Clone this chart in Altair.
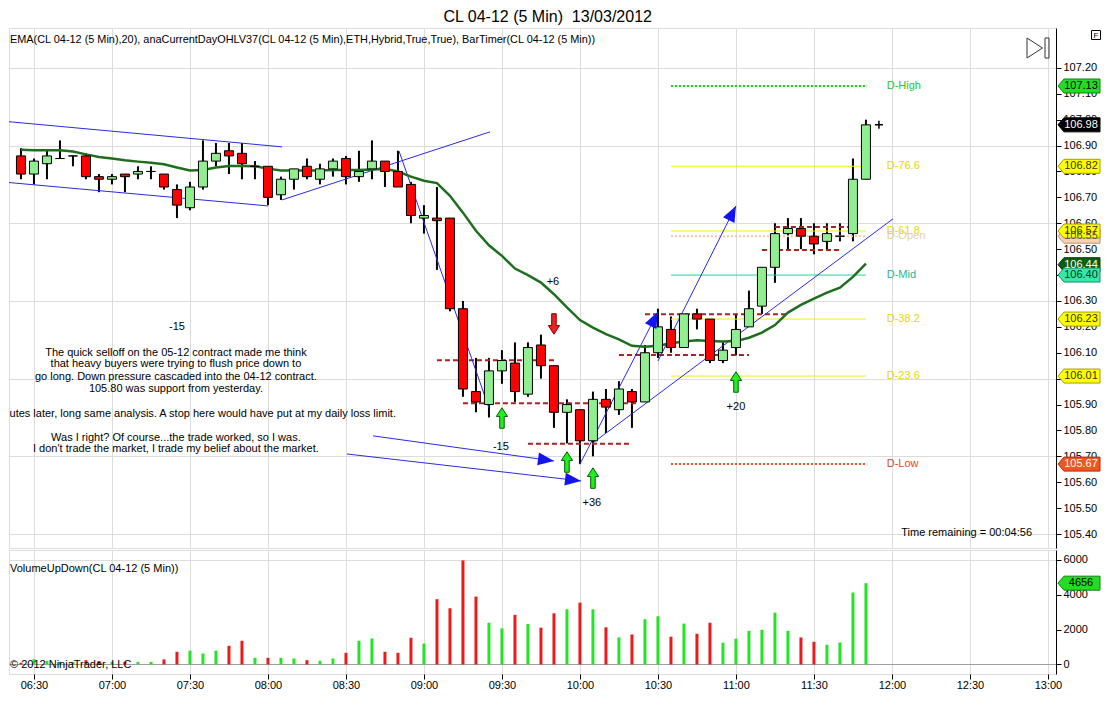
import math
import altair as alt
import pandas as pd

# ---------------- data ----------------
times = ["06:25", "06:30", "06:35", "06:40", "06:45", "06:50", "06:55", "07:00", "07:05", "07:10",
         "07:15", "07:20", "07:25", "07:30", "07:35", "07:40", "07:45", "07:50", "07:55", "08:00",
         "08:05", "08:10", "08:15", "08:20", "08:25", "08:30", "08:35", "08:40", "08:45", "08:50",
         "08:55", "09:00", "09:05", "09:10", "09:15", "09:20", "09:25", "09:30", "09:35", "09:40",
         "09:45", "09:50", "09:55", "10:00", "10:05", "10:10", "10:15", "10:20", "10:25", "10:30",
         "10:35", "10:40", "10:45", "10:50", "10:55", "11:00", "11:05", "11:10", "11:15", "11:20",
         "11:25", "11:30", "11:35", "11:40", "11:45", "11:50"]
opens = [106.86, 106.79, 106.83, 106.85, 106.86, 106.86, 106.78, 106.77, 106.79, 106.79,
         106.80, 106.79, 106.73, 106.66, 106.74, 106.84, 106.88, 106.87, 106.82, 106.82,
         106.71, 106.77, 106.82, 106.77, 106.81, 106.85, 106.78, 106.81, 106.84, 106.80,
         106.75, 106.62, 106.62, 106.62, 106.27, 105.95, 105.90, 106.03, 106.06, 105.94,
         106.13, 106.05, 105.87, 105.88, 105.76, 105.92, 105.88, 105.95, 105.91, 106.10,
         106.19, 106.12, 106.25, 106.23, 106.07, 106.12, 106.20, 106.28, 106.43, 106.56,
         106.58, 106.55, 106.53, 106.55, 106.56, 106.77]
highs = [106.89, 106.85, 106.88, 106.92, 106.86, 106.87, 106.79, 106.79, 106.79, 106.82,
         106.82, 106.79, 106.75, 106.76, 106.92, 106.91, 106.91, 106.91, 106.84, 106.82,
         106.78, 106.81, 106.85, 106.83, 106.85, 106.86, 106.88, 106.92, 106.84, 106.88,
         106.76, 106.67, 106.74, 106.62, 106.30, 106.08, 106.08, 106.11, 106.14, 106.14,
         106.17, 106.05, 105.92, 105.88, 105.95, 105.96, 105.99, 105.96, 106.13, 106.27,
         106.24, 106.25, 106.27, 106.23, 106.14, 106.25, 106.34, 106.43, 106.60, 106.62,
         106.62, 106.60, 106.60, 106.60, 106.85, 107.00]
lows = [106.77, 106.75, 106.77, 106.85, 106.82, 106.77, 106.72, 106.75, 106.72, 106.77,
        106.77, 106.73, 106.62, 106.65, 106.73, 106.82, 106.79, 106.77, 106.77, 106.67,
        106.69, 106.73, 106.77, 106.75, 106.78, 106.75, 106.76, 106.77, 106.74, 106.74,
        106.60, 106.56, 106.42, 106.26, 105.93, 105.87, 105.85, 105.98, 105.91, 105.93,
        106.00, 105.81, 105.75, 105.67, 105.70, 105.79, 105.86, 105.81, 105.91, 106.08,
        106.10, 106.12, 106.19, 106.06, 106.06, 106.09, 106.20, 106.25, 106.37, 106.50,
        106.50, 106.48, 106.50, 106.53, 106.53, 106.77]
closes = [106.79, 106.84, 106.86, 106.85, 106.86, 106.78, 106.77, 106.78, 106.78, 106.80,
          106.80, 106.74, 106.67, 106.74, 106.84, 106.87, 106.86, 106.83, 106.82, 106.70,
          106.77, 106.81, 106.78, 106.81, 106.84, 106.78, 106.80, 106.84, 106.80, 106.74,
          106.63, 106.63, 106.61, 106.27, 105.96, 105.91, 106.03, 106.07, 105.95, 106.12,
          106.05, 105.87, 105.90, 105.76, 105.92, 105.89, 105.96, 105.91, 106.10, 106.20,
          106.12, 106.25, 106.23, 106.07, 106.11, 106.19, 106.27, 106.43, 106.56, 106.58,
          106.55, 106.52, 106.56, 106.55, 106.77, 106.98]
ema20 = [106.884, 106.882, 106.882, 106.882, 106.877, 106.866, 106.856, 106.850, 106.843, 106.838,
         106.834, 106.828, 106.815, 106.804, 106.806, 106.815, 106.821, 106.821, 106.820, 106.811,
         106.804, 106.804, 106.804, 106.804, 106.806, 106.806, 106.806, 106.808, 106.810, 106.800,
         106.780, 106.764, 106.755, 106.706, 106.641, 106.571, 106.515, 106.474, 106.425, 106.400,
         106.371, 106.326, 106.275, 106.226, 106.197, 106.172, 106.152, 106.127, 106.123, 106.127,
         106.137, 106.143, 106.148, 106.145, 106.143, 106.145, 106.158, 106.178, 106.207, 106.255,
         106.285, 106.309, 106.332, 106.351, 106.393, 106.444]
volumes = [100, 300, 200, 150, 150, 250, 200, 150, 150, 150,
           150, 290, 730, 790, 630, 790, 1070, 1360, 380, 380,
           380, 345, 250, 210, 345, 670, 1360, 1490, 730, 670,
           1530, 1200, 3740, 3220, 5960, 3890, 2390, 2070, 2840, 2320,
           2110, 2930, 3160, 3540, 3160, 2130, 1550, 1720, 2590, 2760,
           1590, 2340, 1760, 2390, 1250, 1480, 1930, 1990, 2970, 1930,
           1550, 1300, 1130, 1260, 4120, 4656]

time_ticks = ["06:30", "07:00", "07:30", "08:00", "08:30", "09:00", "09:30", "10:00",
              "10:30", "11:00", "11:30", "12:00", "12:30", "13:00"]
price_ticks = [105.40, 105.50, 105.60, 105.70, 105.80, 105.90, 106.00, 106.10, 106.20, 106.30,
               106.40, 106.50, 106.60, 106.70, 106.80, 106.90, 107.00, 107.10, 107.20]
volume_ticks = [0, 2000, 4000, 6000]

# daily levels (anaCurrentDayOHL)
level_names = ["D-High", "D-76.6", "D-61.8", "D-Open", "D-Mid", "D-38.2", "D-23.6", "D-Low"]
level_prices = [107.13, 106.82, 106.57, 106.55, 106.40, 106.23, 106.01, 105.67]
level_dotted = [True, False, False, True, False, False, False, True]
level_start, level_end, level_label_t = 635, 710, 718

# red dashed support / resistance lines (minutes from midnight, price)
sr_t1 = [545, 555, 580, 615, 625, 675, 670]
sr_t2 = [590, 622, 620, 665, 680, 705, 700]
sr_price = [106.071, 105.905, 105.749, 106.091, 106.249, 106.586, 106.497]

# blue drawn trend lines
tl_t1 = [377.3, 377.3, 485.4, 530.4, 520.4, 510.4, 600.0, 630.0, 605.0]
tl_p1 = [106.995, 106.760, 106.690, 106.879, 105.779, 105.709, 105.670, 106.068, 105.752]
tl_t2 = [485.4, 480.0, 565.4, 565.0, 590.0, 600.4, 630.0, 660.0, 720.4]
tl_p2 = [106.895, 106.667, 106.953, 105.887, 105.682, 105.605, 106.258, 106.667, 106.617]
tl_arrow = [False, False, False, False, True, True, True, True, False]

# signal arrows
sig_t = [570, 595, 605, 660, 590]
sig_price = [105.848, 105.678, 105.616, 105.987, 106.211]
sig_dir = ["up", "up", "up", "up", "down"]

# small annotations
note_text = ["+6", "-15", "-15", "+36", "+20"]
note_t = [589.6, 445.0, 569.6, 604.6, 660.0]
note_price = [106.373, 106.200, 105.736, 105.520, 105.891]

para_lines = ["The quick selloff on the 05-12 contract made me think",
              "that heavy buyers were trying to flush price down to",
              "go long. Down pressure cascaded into the 04-12 contract.",
              "105.80 was support from yesterday.",
              "Was I right? Of course...the trade worked, so I was.",
              "I don't trade the market, I trade my belief about the market."]
para_price = [106.100, 106.056, 106.006, 105.959, 105.772, 105.727]
para_t = 444.6
clip_line = "utes later, long same analysis. A stop here would have put at my daily loss limit."
clip_price = 105.862

# right-axis price flags
flag_prices = [107.13, 106.98, 106.82, 106.55, 106.57, 106.44, 106.40, 106.23, 106.01, 105.67]
last_price_t = 715
volume_flag = 4656

# ---------------- styles ----------------
FONT = "Liberation Sans"
W, H1, H2 = 1047, 520, 124
level_line_colors = ["#00E000", "#F2F200", "#F2F200", "#F2C8A8", "#22D2A2", "#F2F200", "#F2F200", "#FF4A1A"]
level_label_colors = ["#22C822", "#E6D600", "#E6D600", "#E6CDB0", "#1FB894", "#E6D600", "#E6D600", "#E0481A"]
flag_fill = ["#22DD22", "#000000", "#FFFF00", "#F5D2B4", "#FFFF00", "#0B5E0B", "#33E8A8", "#FFFF00", "#FFFF00", "#F0561E"]
flag_text = ["#000000", "#FFFFFF", "#333300", "#555555", "#333300", "#FFFFFF", "#003322", "#333300", "#333300", "#FFFFFF"]
flag_edge = ["#108010", "#000000", "#A0A000", "#C09070", "#A0A000", "#083A08", "#139070", "#A0A000", "#A0A000", "#A03010"]
FLAG_PATH = "M-3,0L-2.15,-1L3,-1L3,1L-2.15,1Z"
ARROW_PATH = "M0,-1L0.55,-0.15L0.22,-0.15L0.22,1L-0.22,1L-0.22,-0.15L-0.55,-0.15Z"
HEAD_PATH = "M0,0L0.8,2L-0.8,2Z"
ICON_PATH = "M-1,-1L0.55,0L-1,1Z M0.8,-1L1.2,-1L1.2,1L0.8,1Z"

XDOM = [380.4, 783.1]
YDOM = [105.346, 107.354]
VDOM = [-544, 6555]


def tmin(s):
    h, m = s.split(":")
    return int(h) * 60 + int(m)


tick_vals = [tmin(s) for s in time_ticks]

bars = pd.DataFrame({"t": [tmin(s) for s in times], "open": opens, "high": highs,
                     "low": lows, "close": closes, "ema": ema20, "vol": volumes})
bars["dir"] = ["up" if c >= o else "down" for o, c in zip(opens, closes)]
bars["body_color"] = ["#90EE90" if d == "up" else "#FF0000" for d in bars["dir"]]
bars["vol_color"] = ["#22E622" if d == "up" else "#EE1A1A" for d in bars["dir"]]
bars["zero"] = 0

levels = pd.DataFrame({"name": level_names, "price": level_prices, "dotted": level_dotted,
                       "lc": level_line_colors, "tc": level_label_colors})
levels["t1"] = level_start
levels["t2"] = level_end
levels["tl"] = level_label_t

sr = pd.DataFrame({"t1": sr_t1, "t2": sr_t2, "price": sr_price})
tl = pd.DataFrame({"t1": tl_t1, "p1": tl_p1, "t2": tl_t2, "p2": tl_p2, "arrow": tl_arrow})

kx = W / (XDOM[1] - XDOM[0])
ky = H1 / (YDOM[1] - YDOM[0])
heads = tl[tl["arrow"]].copy()
heads["ang"] = [(math.degrees(math.atan2((r.t2 - r.t1) * kx, (r.p2 - r.p1) * ky)) + 360) % 360
                for r in heads.itertuples()]

sig = pd.DataFrame({"t": sig_t, "price": sig_price, "dir": sig_dir})
sig["fill"] = ["#22EE22" if d == "up" else "#EE2020" for d in sig_dir]
sig["edge"] = ["#006000" if d == "up" else "#800000" for d in sig_dir]
sig["ang"] = [0 if d == "up" else 180 for d in sig_dir]

notes = pd.DataFrame({"text": note_text, "t": note_t, "price": note_price})
para = pd.DataFrame({"text": para_lines, "price": para_price})
para["t"] = para_t
clipped = pd.DataFrame({"text": [clip_line], "price": [clip_price], "t": [XDOM[0] + 0.2]})

flags = pd.DataFrame({"price": flag_prices, "fill": flag_fill, "tc": flag_text, "edge": flag_edge})
flags["label"] = [f"{p:.2f}" for p in flag_prices]
last = pd.DataFrame({"t": [last_price_t], "price": [flag_prices[1]]})
vflag = pd.DataFrame({"vol": [volume_flag], "label": [str(volume_flag)]})

# ---------------- scales & axes ----------------
xs = alt.Scale(domain=XDOM, nice=False, zero=False, padding=0)
ys = alt.Scale(domain=YDOM, nice=False, zero=False, padding=0)
vs = alt.Scale(domain=VDOM, nice=False, zero=False, padding=0)

xax_main = alt.Axis(values=tick_vals, grid=True, gridColor="#DCDCDC", labels=False, ticks=False,
                    domain=False, title=None)
yax_main = alt.Axis(orient="right", values=price_ticks, format=".2f", grid=True, gridColor="#DCDCDC",
                    gridOpacity={"condition": {"test": "(round(datum.value*100) - 10540) % 30 == 0", "value": 1},
                                 "value": 0},
                    tickSize=5, tickColor="#000000", domainColor="#000000", labelFontSize=11,
                    labelColor="#000000", labelPadding=2, labelFont=FONT, title=None, zindex=0)
label_expr = ("(floor(datum.value/60) < 10 ? '0' : '') + floor(datum.value/60) + ':' + "
              "(datum.value % 60 < 10 ? '0' : '') + (datum.value % 60)")
xax_vol = alt.Axis(values=tick_vals, labelExpr=label_expr, grid=True, gridColor="#DCDCDC", tickSize=5,
                   tickColor="#000000", domain=False, labelFontSize=11, labelColor="#000000",
                   labelPadding=0, labelFont=FONT, title=None)
yax_vol = alt.Axis(orient="right", values=volume_ticks, format="d", grid=True,
                   gridOpacity={"condition": {"test": "datum.value == 0 || datum.value == 6000", "value": 1},
                                "value": 0},
                   gridColor={"condition": {"test": "datum.value == 0", "value": "#A0A0A0"}, "value": "#DCDCDC"},
                   tickSize=5, tickColor="#000000", domainColor="#000000", labelFontSize=11,
                   labelColor="#000000", labelPadding=2, labelFont=FONT, title=None, zindex=0)


def X(f):
    return alt.X(f, type="quantitative", scale=xs, axis=xax_main)


def Y(f):
    return alt.Y(f, type="quantitative", scale=ys, axis=yax_main)


# ---------------- main price panel ----------------
lv_solid = alt.Chart(levels[~levels["dotted"]]).mark_rule(strokeWidth=1).encode(
    x=X("t1"), x2="t2", y=Y("price"), color=alt.Color("lc:N", scale=None))
lv_dot = alt.Chart(levels[levels["dotted"]]).mark_rule(strokeWidth=2, strokeDash=[2, 2]).encode(
    x=X("t1"), x2="t2", y=Y("price"), color=alt.Color("lc:N", scale=None))
lv_text = alt.Chart(levels).mark_text(align="left", baseline="middle", fontSize=11, font=FONT).encode(
    x=X("tl"), y=Y("price"), text="name:N", color=alt.Color("tc:N", scale=None))

sr_lines = alt.Chart(sr).mark_rule(strokeWidth=2, strokeDash=[5, 3], color="#A52424").encode(
    x=X("t1"), x2="t2", y=Y("price"))

blue = alt.Chart(tl).mark_rule(strokeWidth=1, color="#2A2AE6", clip=True).encode(
    x=X("t1"), y=Y("p1"), x2="t2", y2="p2")
blue_heads = alt.Chart(heads).mark_point(shape=HEAD_PATH, size=256, filled=True, opacity=1,
                                         color="#1414F0").encode(
    x=X("t2"), y=Y("p2"), angle=alt.Angle("ang:Q", scale=None))

ema_line = alt.Chart(bars).mark_line(color="#1E6E1E", strokeWidth=2.5).encode(x=X("t"), y=Y("ema"))

wicks = alt.Chart(bars).mark_rule(color="#000000", strokeWidth=2).encode(x=X("t"), y=Y("low"), y2="high")
bodies = alt.Chart(bars).mark_bar(size=9, stroke="#000000", strokeWidth=1).encode(
    x=X("t"), y=Y("open"), y2="close", color=alt.Color("body_color:N", scale=None))

last_mark = alt.Chart(last).mark_point(shape="M-1,0L1,0M0,-1L0,1", size=64, filled=False,
                                       color="#000000", strokeWidth=1.5, opacity=1).encode(x=X("t"), y=Y("price"))

signals = alt.Chart(sig).mark_point(shape=ARROW_PATH, size=420, filled=True, strokeWidth=1, opacity=1).encode(
    x=X("t"), y=Y("price"), fill=alt.Fill("fill:N", scale=None), stroke=alt.Stroke("edge:N", scale=None),
    angle=alt.Angle("ang:Q", scale=None))

note_marks = alt.Chart(notes).mark_text(fontSize=11, font=FONT, color="#000000", baseline="middle").encode(
    x=X("t"), y=Y("price"), text="text:N")
para_marks = alt.Chart(para).mark_text(fontSize=11, font=FONT, color="#000000", baseline="middle",
                                       align="center").encode(x=X("t"), y=Y("price"), text="text:N")
clip_marks = alt.Chart(clipped).mark_text(fontSize=11, font=FONT, color="#000000", baseline="middle",
                                          align="left").encode(x=X("t"), y=Y("price"), text="text:N")

flag_shapes = alt.Chart(flags).mark_point(shape=FLAG_PATH, size=196, filled=True, strokeWidth=1,
                                          opacity=1).encode(
    x=alt.value(W + 23), y=Y("price"), fill=alt.Fill("fill:N", scale=None),
    stroke=alt.Stroke("edge:N", scale=None))
flag_labels = alt.Chart(flags).mark_text(fontSize=11, font=FONT, baseline="middle", align="center").encode(
    x=alt.value(W + 25), y=Y("price"), text="label:N", color=alt.Color("tc:N", scale=None))

hdr = pd.DataFrame({"text": ["EMA(CL 04-12 (5 Min),20), anaCurrentDayOHLV37(CL 04-12 (5 Min),ETH,Hybrid,True,True), BarTimer(CL 04-12 (5 Min))"]})
header = alt.Chart(hdr).mark_text(fontSize=10.9, font=FONT, color="#000000", align="left",
                                  baseline="middle").encode(x=alt.value(1), y=alt.value(12), text="text:N")
tr = pd.DataFrame({"text": ["Time remaining = 00:04:56"]})
timer = alt.Chart(tr).mark_text(fontSize=11, font=FONT, color="#000000", align="right",
                                baseline="middle").encode(x=alt.value(W - 24), y=alt.value(505), text="text:N")
icon = alt.Chart(tr).mark_point(shape=ICON_PATH, size=400, filled=False, color="#333333",
                                strokeWidth=1, opacity=1).encode(x=alt.value(W - 19), y=alt.value(20))
fbox = alt.Chart(tr).mark_point(shape="square", size=81, filled=False, color="#000000",
                                strokeWidth=1, opacity=1).encode(x=alt.value(W + 40), y=alt.value(7))
ftext = alt.Chart(pd.DataFrame({"text": ["F"]})).mark_text(fontSize=8, font=FONT, color="#000000",
                                                            baseline="middle").encode(
    x=alt.value(W + 40), y=alt.value(7.5), text="text:N")

main = alt.layer(wicks, lv_solid, lv_dot, lv_text, sr_lines, blue, ema_line, bodies, blue_heads,
                 signals, last_mark, note_marks, para_marks, clip_marks, flag_shapes, flag_labels,
                 header, timer, icon, fbox, ftext).properties(width=W, height=H1)

# ---------------- volume panel ----------------
vol_bars = alt.Chart(bars).mark_bar(size=3).encode(
    x=alt.X("t:Q", scale=xs, axis=xax_vol),
    y=alt.Y("vol:Q", scale=vs, axis=yax_vol), y2="zero:Q",
    color=alt.Color("vol_color:N", scale=None))
vflag_shape = alt.Chart(vflag).mark_point(shape=FLAG_PATH, size=196, filled=True, strokeWidth=1, opacity=1,
                                          fill="#22DD22", stroke="#108010").encode(
    x=alt.value(W + 23), y=alt.Y("vol:Q", scale=vs, axis=yax_vol))
vflag_text = alt.Chart(vflag).mark_text(fontSize=11, font=FONT, color="#000000", baseline="middle").encode(
    x=alt.value(W + 25), y=alt.Y("vol:Q", scale=vs, axis=yax_vol), text="label:N")
vtitle = alt.Chart(pd.DataFrame({"text": ["VolumeUpDown(CL 04-12 (5 Min))"]})).mark_text(
    fontSize=11, font=FONT, color="#000000", align="left", baseline="middle").encode(
    x=alt.value(1), y=alt.value(19), text="text:N")
vcopy = alt.Chart(pd.DataFrame({"text": ["\u00a9 2012 NinjaTrader, LLC"]})).mark_text(
    fontSize=11, font=FONT, color="#000000", align="left", baseline="middle").encode(
    x=alt.value(1), y=alt.value(115), text="text:N")

vol = alt.layer(vol_bars, vflag_shape, vflag_text, vtitle, vcopy).properties(width=W, height=H2)

chart = alt.vconcat(main, vol, spacing=0).properties(
    title=alt.TitleParams(text="CL 04-12 (5 Min) \u00a013/03/2012", fontSize=16, font=FONT,
                          fontWeight="normal", color="#000000", anchor="start", dx=435, offset=3),
    padding=0,
).configure_view(stroke="#000000", strokeWidth=1).configure(background="#FFFFFF")

chart.save("out.html", embed_options={"renderer": "svg", "actions": False})
